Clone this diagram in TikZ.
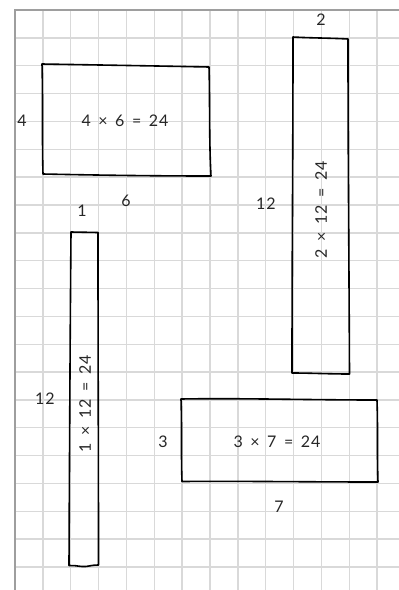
\documentclass[tikz,border=0pt]{standalone}
\usepackage{fontspec}
\setmainfont{Lato}
\newfontfamily\handfont[LetterSpace=6,WordSpace=1.5]{Lato}
\begin{document}
\begin{tikzpicture}[x=1pt,y=-1pt,
  gridline/.style={draw=black!15,line width=1.4pt},
  borderline/.style={draw=black!38,line width=2pt},
  handbox/.style={draw=black,line width=1.6pt,line join=round},
  lbl/.style={font=\handfont\fontsize{16}{18}\selectfont,inner sep=0pt,text=black!85}]
\useasboundingbox (0,0) rectangle (399,590);
\fill[white] (0,0) rectangle (399,590);
% grid
\foreach \k in {1,...,13} \draw[gridline] ({15+27.85*\k},10) -- ({15+27.85*\k},590);
\foreach \k in {1,...,20} \draw[gridline] (15,{10+27.85*\k}) -- (399,{10+27.85*\k});
\draw[borderline] (15,590) -- (15,10) -- (399,10);
% rectangle 4 x 6
\draw[handbox] (42,64) .. controls (100,65) and (160,66) .. (209,67)
  .. controls (210,100) and (209,140) .. (211,176)
  .. controls (150,176) and (90,175) .. (43,174)
  .. controls (42,140) and (43,100) .. (42,64) -- cycle;
\node[lbl] (t46) at (125,121) {4 × 6 = 24};
\node[lbl] (l4) at (22,121) {4};
\node[lbl] (l6) at (126,201) {6};
% rectangle 2 x 12
\draw[handbox] (293,37) .. controls (310,38) and (330,38) .. (348,39)
  .. controls (348,150) and (349,260) .. (349.5,374)
  .. controls (330,374) and (310,373) .. (292,373)
  .. controls (292,260) and (293,150) .. (293,37) -- cycle;
\node[lbl,rotate=90] (t212) at (321,210) {2 × 12 = 24};
\node[lbl] (l2) at (321,20) {2};
\node[lbl] (l12a) at (266,204) {12};
% rectangle 1 x 12
\draw[handbox] (71,232) -- (98,232.5)
  .. controls (98,350) and (98.5,460) .. (98.5,565)
  .. controls (90,565) and (88,567) .. (82,566.5)
  .. controls (76,566) and (73,565) .. (69,565.5)
  .. controls (69.5,460) and (70,350) .. (71,232) -- cycle;
\node[lbl,rotate=90] (t112) at (85,404) {1 × 12 = 24};
\node[lbl] (l1) at (82,211) {1};
\node[lbl] (l12b) at (45,399) {12};
% rectangle 3 x 7
\draw[handbox] (181,399) .. controls (240,398) and (310,400) .. (377,400)
  .. controls (378,428) and (377,455) .. (378,482)
  .. controls (310,482) and (240,481) .. (182,481.5)
  .. controls (181,455) and (182,428) .. (181,399) -- cycle;
\node[lbl] (t37) at (277,442) {3 × 7 = 24};
\node[lbl] (l3) at (163,442) {3};
\node[lbl] (l7) at (279,507) {7};
\end{tikzpicture}
\end{document}
